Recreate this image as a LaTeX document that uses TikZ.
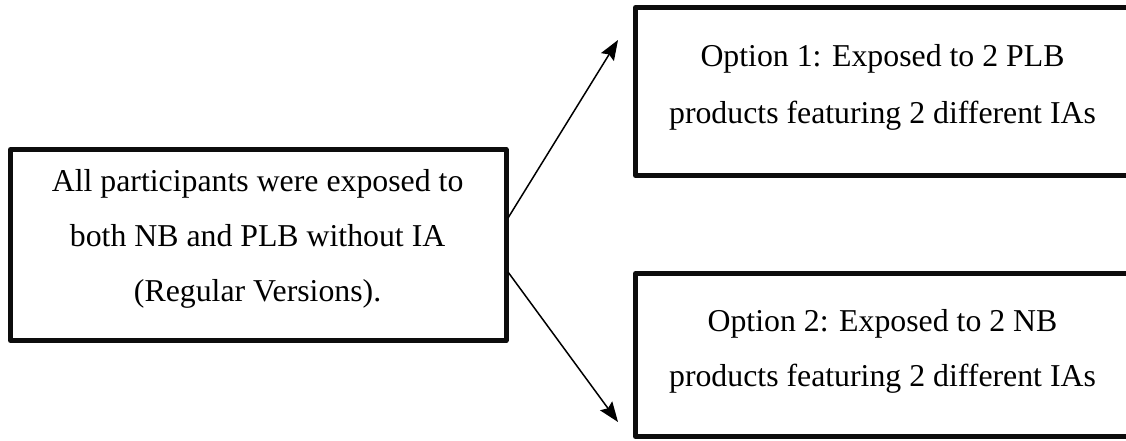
\documentclass[tikz,border=0pt]{standalone}
\usepackage{fontspec}
\setmainfont{Liberation Serif}
\usetikzlibrary{arrows.meta}
\begin{document}
\begin{tikzpicture}[x=1pt,y=-1pt,
  boxshape/.style={draw=black!95, line width=5pt, inner sep=0pt, outer sep=0pt, line join=round},
  boxtext/.style={align=center, inner sep=0pt, anchor=base, font=\fontsize{31.8}{55}\selectfont},
  conn/.style={line width=1.5pt, -{Stealth[length=20pt,width=15pt,inset=3pt]}}]
\useasboundingbox (0,0) rectangle (1126,441);
\begin{scope}
\clip (0,0) rectangle (1126,441);
\node[boxshape, minimum width=495.5pt, minimum height=191pt] (L) at (258.25,245) {};
\node[boxshape, minimum width=494pt, minimum height=168pt] (T) at (882.5,91.5) {};
\node[boxshape, minimum width=494pt, minimum height=163pt] (B) at (882.5,355) {};
\end{scope}
% anchor=base of a multi-line node is the baseline of its last line
\node[boxtext] (Ltxt) at (257.6,301.7) {All participants were exposed to\\both NB and PLB without IA\\(Regular Versions).};
\node[boxtext, font=\fontsize{31.8}{56.6}\selectfont] (Ttxt) at (882.5,123.3) {Option 1: Exposed to 2 PLB\\products featuring 2 different IAs};
\node[boxtext] (Btxt) at (882.5,386.7) {Option 2: Exposed to 2 NB\\products featuring 2 different IAs};
\coordinate (s1) at (508,218);
\coordinate (s2) at (508,272);
\coordinate (e1) at (618,40);
\coordinate (e2) at (618,422);
\draw[conn] (s1) -- (e1);
\draw[conn] (s2) -- (e2);
\end{tikzpicture}
\end{document}
